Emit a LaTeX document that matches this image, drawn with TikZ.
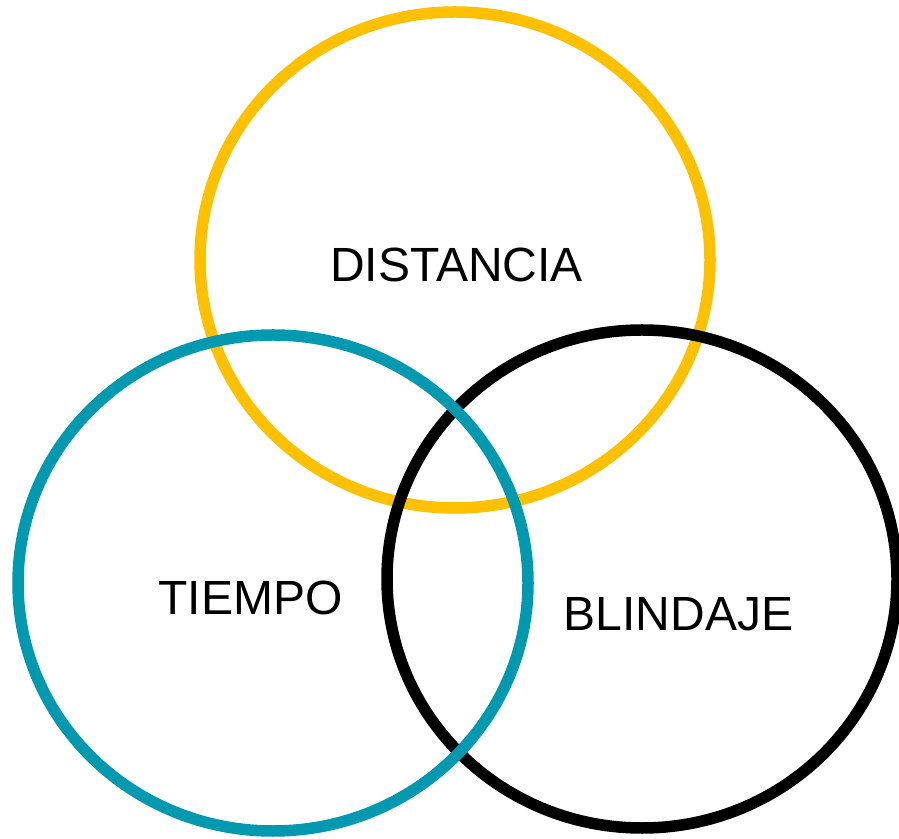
\documentclass[tikz,border=0pt]{standalone}
\usepackage{fontspec}
\setmainfont{Liberation Sans}
\definecolor{ringyellow}{HTML}{FFC000}
\definecolor{ringteal}{HTML}{0099B0}
\begin{document}
\begin{tikzpicture}[x=1pt,y=1pt,
  ring/.style={line width=11.5pt},
  lbl/.style={inner sep=0pt, font=\fontsize{48}{56}\selectfont, text=black}]
\useasboundingbox (0,0) rectangle (899,838);
\draw[ring, ringyellow] (455,578) ellipse [x radius=255, y radius=248];
\draw[ring, black] (642,259) ellipse [x radius=255, y radius=249];
\draw[ring, ringteal] (273,255) ellipse [x radius=255, y radius=248];
\node[lbl] (dist) at (456.5,573) {DISTANCIA};
\node[lbl] (tiem) at (250.5,240.5) {TIEMPO};
\node[lbl] (blin) at (678.5,223.5) {BLINDAJE};
\end{tikzpicture}
\end{document}
